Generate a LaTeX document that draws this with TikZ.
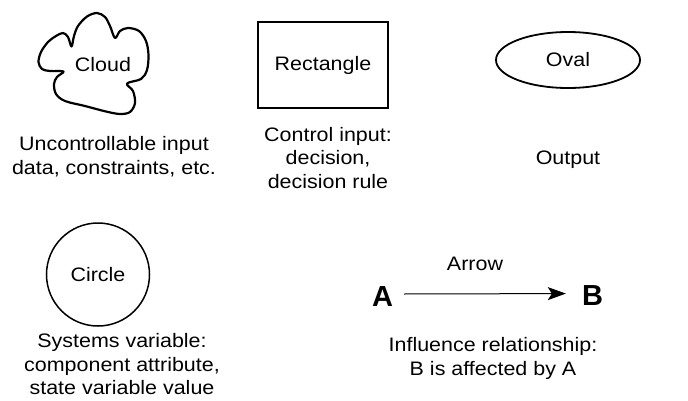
\documentclass[tikz,border=0pt]{standalone}
\usepackage{fontspec}
\setmainfont{Liberation Sans}[FakeStretch=1.1]
\newfontfamily\letterfont{Liberation Sans}
\usetikzlibrary{shapes.geometric,arrows.meta}
\begin{document}
\begin{tikzpicture}[x=1pt,y=-1pt,
  lbl/.style={align=center, inner sep=0pt, font=\fontsize{19.5}{23.5}\selectfont},
  shapelbl/.style={inner sep=0pt, font=\fontsize{19.5}{23.5}\selectfont},
  letter/.style={inner sep=0pt, font=\letterfont\bfseries\fontsize{29}{29}\selectfont},
  outline/.style={draw=black, line width=1.8pt}]
\useasboundingbox (0,0) rectangle (688,400);
% Cloud
\draw[outline, line width=2.2pt, line join=round] plot[smooth cycle, tension=0.55] coordinates {
 (71.5,46.5) (74,36) (78,26) (87,16.5) (97,13) (105,17) (110,26) (115,38)
 (120,31) (128,28) (139,31) (146,41) (148.5,55) (147,70) (141,79) (127,83.5)
 (133,91) (135,103) (130,112) (120,114) (106,111.5) (85,106) (65,101) (56,94)
 (54,84) (57,77) (63.5,71.5)
 (50,71) (42,69) (38.5,62) (41,52) (48,42) (56,36) (63,33) (68,37)};
\node[shapelbl] (cloud) at (103,65) {Cloud};
% Rectangle
\node[outline, shapelbl, minimum width=130pt, minimum height=86pt] (rect) at (323,65) {Rectangle};
% Oval
\node[outline, shapelbl, ellipse, minimum width=144pt, minimum height=56pt] (oval) at (568,60) {Oval};
% Circle
\node[outline, shapelbl, line width=1.5pt, circle, minimum size=103pt] (circ) at (98,274.5) {Circle};
% Labels (base anchor = baseline of the last line)
\node[lbl, anchor=base] (t1) at (114,174.2) {Uncontrollable input\\data, constraints, etc.};
\node[lbl, anchor=base] (t2) at (328,188.3) {Control input:\\decision,\\decision rule};
\node[lbl, anchor=base] (t3) at (568,164) {Output};
\node[lbl, anchor=base] (t4) at (122,394.5) {Systems variable:\\component attribute,\\state variable value};
\node[lbl, anchor=base] (t5) at (493,375) {Influence relationship:\\B is affected by A};
% Arrow
\node[letter, anchor=base] (A) at (382.5,306) {A};
\node[letter, anchor=base] (B) at (592.5,305.5) {B};
\node[lbl, anchor=base] (arrowlbl) at (475,270) {Arrow};
\draw[line width=1pt, -{Stealth[length=18pt, width=13pt, inset=4pt]}, shorten <=11pt, shorten >=16pt]
  ([yshift=2pt]A.east) -- ([yshift=2pt]B.west);
\end{tikzpicture}
\end{document}
